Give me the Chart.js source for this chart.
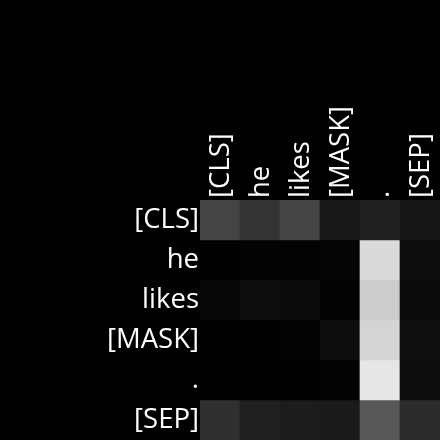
<!DOCTYPE html>
<html>
<head>
<meta charset="utf-8">
<script src="https://cdn.jsdelivr.net/npm/chart.js@4"></script>
<style>
html,body{margin:0;padding:0;background:#000;}
#wrap{width:440px;height:440px;}
</style>
</head>
<body>
<div id="wrap"><canvas id="c" width="440" height="440"></canvas></div>
<script>
const tokens = ["[CLS]", "he", "likes", "[MASK]", ".", "[SEP]"];
const row0 = [0.267, 0.200, 0.267, 0.094, 0.125, 0.082];
const row1 = [0.000, 0.012, 0.012, 0.020, 0.855, 0.051];
const row2 = [0.027, 0.055, 0.047, 0.008, 0.800, 0.047];
const row3 = [0.000, 0.004, 0.012, 0.055, 0.831, 0.063];
const row4 = [0.000, 0.000, 0.000, 0.012, 0.902, 0.051];
const row5 = [0.188, 0.125, 0.110, 0.102, 0.341, 0.169];
const rows = [row0, row1, row2, row3, row4, row5];

function gray(v){ const g = Math.round(v*255); return `rgb(${g},${g},${g})`; }

const datasets = rows.map((r, i) => ({
  label: tokens[i],
  data: r.map(() => 1),
  weights: r,
  backgroundColor: r.map(gray),
  borderWidth: 0,
  barPercentage: 1,
  categoryPercentage: 1,
  stack: 's'
}));

const font = { family: "'Open Sans'", size: 27.5 };

new Chart(document.getElementById('c'), {
  type: 'bar',
  data: { labels: tokens, datasets },
  options: {
    responsive: false,
    animation: false,
    maintainAspectRatio: false,
    layout: { padding: 0 },
    plugins: { legend: { display: false }, tooltip: { enabled: false } },
    scales: {
      x: {
        position: 'top',
        stacked: true,
        grid: { display: false, drawTicks: false },
        border: { display: false },
        ticks: { color: '#fff', font, minRotation: 90, maxRotation: 90, padding: 2, autoSkip: false, labelOffset: 34 },
        afterFit(axis){ axis.height = 200; axis.paddingLeft = 0; axis.paddingRight = 0; }
      },
      y: {
        type: 'linear',
        stacked: true,
        min: 0, max: 6,
        reverse: true,
        grid: { display: false, drawTicks: false },
        border: { display: false },
        afterBuildTicks(axis){ axis.ticks = [0.5,1.5,2.5,3.5,4.5,5.5].map(v => ({ value: v })); },
        ticks: { color: '#fff', font, padding: 1, autoSkip: false,
          callback: (v) => tokens[Math.floor(v)] },
        afterFit(axis){ axis.width = 200; axis.paddingTop = 0; axis.paddingBottom = 0; }
      }
    }
  }
});
</script>
</body>
</html>
